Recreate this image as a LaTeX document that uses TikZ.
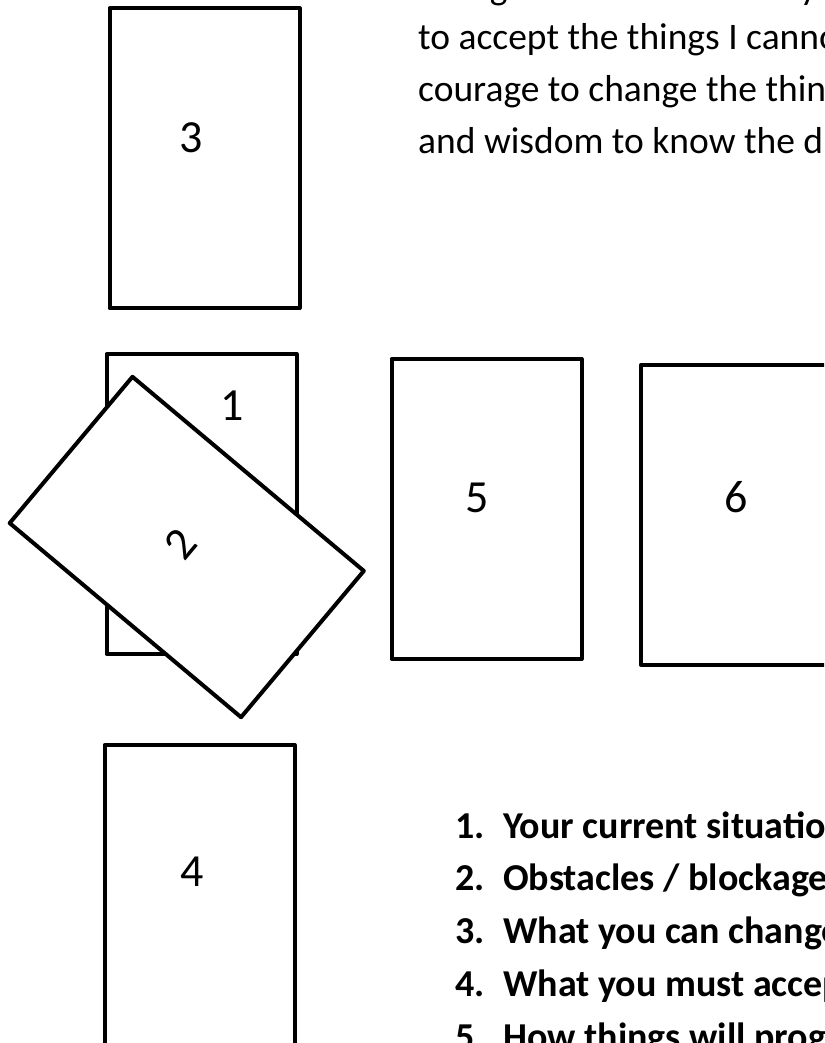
\documentclass[tikz,border=0pt]{standalone}
\usepackage{fontspec}
\setmainfont{Carlito}
\begin{document}
\begin{tikzpicture}[x=1pt,y=-1pt,
  card/.style={draw=black, line width=4pt, fill=white, line join=round,
    minimum width=190pt, minimum height=300pt, inner sep=0pt},
  cardnum/.style={font=\fontsize{46}{50}\selectfont, inner sep=0pt},
  prayer/.style={anchor=base west, font=\fontsize{37.5}{44}\selectfont, inner sep=0pt},
  itemnum/.style={anchor=base west, font=\fontsize{38}{44}\selectfont\bfseries, inner sep=0pt},
  itemtext/.style={anchor=base west, font=\fontsize{38}{44}\selectfont\bfseries, inner sep=0pt}]
\useasboundingbox (0,0) rectangle (824,1043);
\clip (0,0) rectangle (824,1043);

% cards
\node[card] (c3) at (204.5,158.3) {};
\node[cardnum] (n3) at (191,137.5) {3};
\node[card] (c1) at (201.5,504) {};
\node[cardnum] (n1) at (232,406) {1};
\node[card, rotate=50, minimum width=191pt, minimum height=302pt] (c2) at (186.75,547) {};
\node[cardnum, rotate=50] (n2) at (181,544) {2};
\node[card] (c5) at (486.5,509) {};
\node[cardnum] (n5) at (477.5,497.5) {5};
\node[card] (c6) at (736.2,514.8) {};
\node[cardnum] (n6) at (736,497) {6};
\node[card] (c4) at (199.6,895) {};
\node[cardnum] (n4) at (192,872) {4};

% prayer text
\node[prayer] (p0) at (418,0) {God grant me the serenity};
\node[prayer] (p1) at (418,50) {to accept the things I cannot};
\node[prayer] (p2) at (418,101.7) {courage to change the things};
\node[prayer] (p3) at (418,153.3) {and wisdom to know the difference};

% list
\node[itemnum] (k1) at (455,838) {1.};
\node[itemtext] (t1) at (503,838) {Your current situation};
\node[itemnum] (k2) at (455,890.7) {2.};
\node[itemtext] (t2) at (503,890.7) {Obstacles / blockages};
\node[itemnum] (k3) at (455,943.5) {3.};
\node[itemtext] (t3) at (503,943.5) {What you can change};
\node[itemnum] (k4) at (455,996.2) {4.};
\node[itemtext] (t4) at (503,996.2) {What you must accept};
\node[itemnum] (k5) at (455,1049) {5.};
\node[itemtext] (t5) at (503,1049) {How things will progress};
\end{tikzpicture}
\end{document}
